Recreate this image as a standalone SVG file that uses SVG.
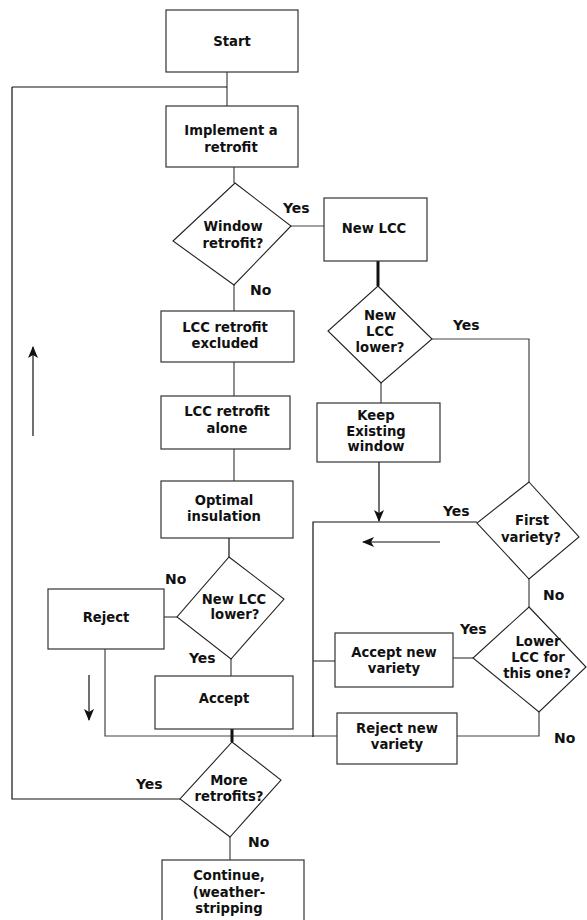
<svg xmlns="http://www.w3.org/2000/svg" width="587" height="920" viewBox="0 0 587 920">
<style>
.box{fill:#fff;stroke:#333;stroke-width:1.2}
.dia{fill:#fff;stroke:#222;stroke-width:1.1}
.ln{fill:none;stroke:#444;stroke-width:1.2}
.lk{fill:none;stroke:#111;stroke-width:1.2}
.thick{fill:none;stroke:#111;stroke-width:3}
text{font-family:"DejaVu Sans",sans-serif;font-weight:bold;font-size:13.2px;fill:#111;text-anchor:middle}
.lbl{text-anchor:start;font-size:14px}
</style>
<defs>
<marker id="ah" viewBox="0 0 12 10" refX="11" refY="5" markerWidth="12" markerHeight="10" markerUnits="userSpaceOnUse" orient="auto">
<path d="M0,0 L12,5 L0,10 L3,5 Z" fill="#111"/>
</marker>
</defs>
<rect width="587" height="920" fill="#fff"/>
<g id="connectors">
<path class="ln" d="M227,72 V106"/>
<path class="lk" d="M12,87 H227"/>
<path class="lk" d="M12,87 V799 H180"/>
<path class="ln" d="M234,167 V183"/>
<path class="ln" d="M291,226 H324"/>
<path class="ln" d="M234,285 V311"/>
<path class="thick" d="M378,261 V286"/>
<path class="ln" d="M432,339 H529 V482"/>
<path class="ln" d="M381,383 V403"/>
<path class="ln" d="M234,362 V396"/>
<path class="ln" d="M234,449 V481"/>
<path class="lk" d="M229,538 V557"/>
<path class="ln" d="M177,617 H164"/>
<path class="ln" d="M231,659 V676"/>
<path class="ln" d="M105,649 V736 H337"/>
<path class="thick" d="M232,729 V742"/>
<path class="lk" d="M379,462 V521" marker-end="url(#ah)"/>
<path class="lk" d="M477,522 H313 V737"/>
<path class="ln" d="M313,661 H335"/>
<path class="ln" d="M529,579 V607"/>
<path class="ln" d="M473,658 H453"/>
<path class="ln" d="M539,712 V736 H457"/>
<path class="ln" d="M230,837 V860"/>
<path class="lk" d="M33,436 V347" marker-end="url(#ah)"/>
<path class="lk" d="M89,675 V720" marker-end="url(#ah)"/>
<path class="lk" d="M440,542 H363" marker-end="url(#ah)"/>
</g>
<g id="start"><rect class="box" x="166" y="10" width="132" height="62"/><text x="232" y="46">Start</text></g>
<g id="implement"><rect class="box" x="166" y="106" width="132" height="61"/><text x="231" y="135">Implement a</text><text x="231" y="152">retrofit</text></g>
<g id="window"><polygon class="dia" points="235,183 291,226 234,285 173,241"/><text x="233" y="231">Window</text><text x="233" y="248">retrofit?</text></g>
<g id="newlcc"><rect class="box" x="324" y="198" width="103" height="63"/><text x="374" y="233">New LCC</text></g>
<g id="newlcclower1"><polygon class="dia" points="378,286 432,339 381,383 328,331"/><text x="380" y="320">New</text><text x="380" y="336">LCC</text><text x="380" y="352">lower?</text></g>
<g id="keep"><rect class="box" x="317" y="403" width="123" height="59"/><text x="376" y="420">Keep</text><text x="376" y="436">Existing</text><text x="376" y="451">window</text></g>
<g id="excluded"><rect class="box" x="161" y="311" width="133" height="51"/><text x="225" y="332">LCC retrofit</text><text x="225" y="348">excluded</text></g>
<g id="alone"><rect class="box" x="161" y="396" width="129" height="53"/><text x="227" y="416">LCC retrofit</text><text x="227" y="433">alone</text></g>
<g id="optimal"><rect class="box" x="161" y="481" width="132" height="57"/><text x="224" y="505">Optimal</text><text x="224" y="521">insulation</text></g>
<g id="newlcclower2"><polygon class="dia" points="229,557 284,599 231,659 177,617"/><text x="234" y="604">New LCC</text><text x="235" y="619">lower?</text></g>
<g id="reject"><rect class="box" x="48" y="589" width="116" height="60"/><text x="106" y="622">Reject</text></g>
<g id="accept"><rect class="box" x="155" y="676" width="138" height="53"/><text x="224" y="703">Accept</text></g>
<g id="more"><polygon class="dia" points="232,742 281,780 230,837 180,799"/><text x="229" y="785">More</text><text x="229" y="801">retrofits?</text></g>
<g id="continue"><rect class="box" x="162" y="860" width="142" height="70"/><text x="229" y="880">Continue,</text><text x="229" y="897">(weather-</text><text x="229" y="913">stripping</text></g>
<g id="first"><polygon class="dia" points="529,482 579,537 529,579 477,523"/><text x="532" y="525">First</text><text x="531" y="542">variety?</text></g>
<g id="lower"><polygon class="dia" points="529,607 586,667 539,712 473,658"/><text x="538" y="646">Lower</text><text x="538" y="662">LCC for</text><text x="537" y="678">this one?</text></g>
<g id="acceptnew"><rect class="box" x="335" y="633" width="118" height="54"/><text x="394" y="657">Accept new</text><text x="394" y="673">variety</text></g>
<g id="rejectnew"><rect class="box" x="337" y="713" width="120" height="51"/><text x="397" y="733">Reject new</text><text x="397" y="749">variety</text></g>
<g id="labels">
<text class="lbl" x="283" y="213">Yes</text>
<text class="lbl" x="250" y="295">No</text>
<text class="lbl" x="453" y="330">Yes</text>
<text class="lbl" x="443" y="516">Yes</text>
<text class="lbl" x="543" y="600">No</text>
<text class="lbl" x="460" y="634">Yes</text>
<text class="lbl" x="554" y="743">No</text>
<text class="lbl" x="165" y="584">No</text>
<text class="lbl" x="189" y="663">Yes</text>
<text class="lbl" x="136" y="789">Yes</text>
<text class="lbl" x="248" y="847">No</text>
</g>
</svg>
